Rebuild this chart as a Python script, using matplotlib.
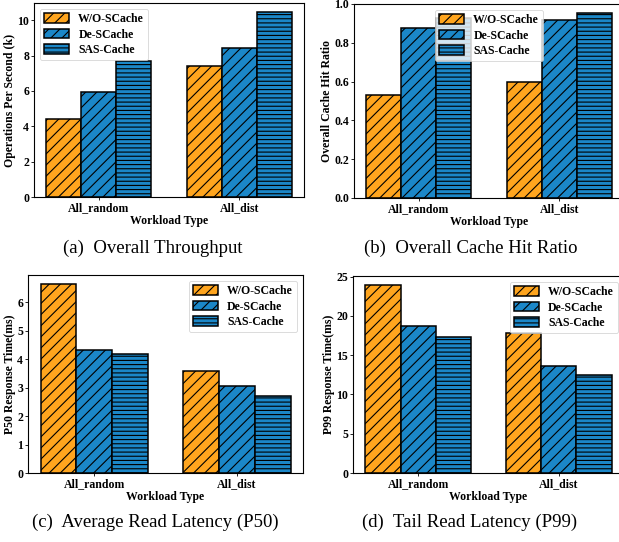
import numpy as np
import matplotlib
matplotlib.use("Agg")
import matplotlib.pyplot as plt

plt.rcParams['font.family'] = ['Liberation Serif', 'DejaVu Serif']
plt.rcParams['hatch.linewidth'] = 0.8

# data
workloads = ['All_random', 'All_dist']
schemes = ['W/O-SCache', 'De-SCache', 'SAS-Cache']

ops_wo = [4.40, 7.42]
ops_de = [5.95, 8.45]
ops_sas = [7.67, 10.45]

hit_wo = [0.53, 0.60]
hit_de = [0.875, 0.915]
hit_sas = [0.926, 0.955]

p50_wo = [6.62, 3.57]
p50_de = [4.33, 3.05]
p50_sas = [4.18, 2.72]

p99_wo = [23.9, 17.8]
p99_de = [18.75, 13.6]
p99_sas = [17.3, 12.5]

colors = ['#FFA51E', '#1B87C8', '#1B87C8']
hatches = ['///', '///', '----']

W, H = 619, 542
fig = plt.figure(figsize=(W / 100, H / 100), dpi=100)


def make_ax(left, right, top, bottom):
    return fig.add_axes([left / W, 1 - bottom / H, (right - left) / W, (bottom - top) / H])


def draw(ax, series, ylabel, legend_loc, ylim=None):
    x = np.arange(len(workloads))
    width = 0.25
    for i, vals in enumerate(series):
        ax.bar(x + (i - 1) * width, vals, width, color=colors[i], hatch=hatches[i],
               edgecolor='black', linewidth=1.1, label=schemes[i])
    ax.set_xticks(x)
    ax.set_xticklabels(workloads, fontsize=8.5, fontweight='bold')
    ax.tick_params(axis='both', length=2, width=0.6, pad=1.5, labelsize=8.5)
    for lab in ax.get_yticklabels():
        lab.set_fontweight('bold')
    ax.set_xlabel('Workload Type', fontsize=8.5, fontweight='bold', labelpad=0.5)
    ax.set_ylabel(ylabel, fontsize=8.5, fontweight='bold', labelpad=1)
    if ylim is not None:
        ax.set_ylim(*ylim)
    for s in ax.spines.values():
        s.set_linewidth(0.8)
    leg = ax.legend(loc=legend_loc, prop={'weight': 'bold', 'size': 8.5},
                    handlelength=2.1, handleheight=0.9, borderpad=0.35,
                    labelspacing=0.3)
    leg.get_frame().set_linewidth(0.6)


ax1 = make_ax(34, 304, 3, 197)
draw(ax1, [ops_wo, ops_de, ops_sas], 'Operations Per Second (k)', 'upper left')

ax2 = make_ax(354, 624, 4, 198)
draw(ax2, [hit_wo, hit_de, hit_sas], 'Overall Cache Hit Ratio', 'upper center', ylim=(0, 1.0))

ax3 = make_ax(28, 303, 275, 473)
draw(ax3, [p50_wo, p50_de, p50_sas], 'P50 Response Time(ms)', 'upper right')

ax4 = make_ax(353, 624, 276, 473)
draw(ax4, [p99_wo, p99_de, p99_sas], 'P99 Response Time(ms)', 'upper right')

captions = ['(a)  Overall Throughput', '(b)  Overall Cache Hit Ratio',
            '(c)  Average Read Latency (P50)', '(d)  Tail Read Latency (P99)']
cap_pos = [(153, 248), (471, 248), (155, 522), (470, 522)]
for txt, (cx, cy) in zip(captions, cap_pos):
    fig.text(cx / W, 1 - cy / H, txt, ha='center', va='center', fontsize=13.5)

fig.savefig('out.png', dpi=100)
